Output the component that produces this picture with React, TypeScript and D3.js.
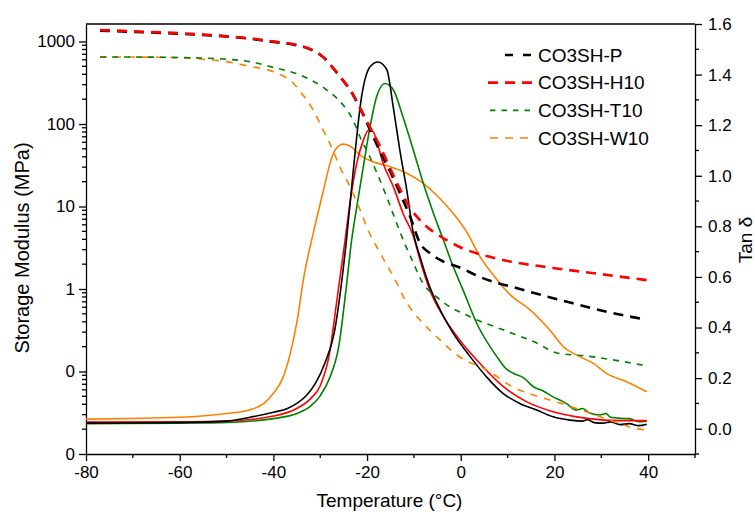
import React, { useEffect, useRef } from 'react';
import * as d3 from 'd3';

// Storage modulus (MPa), [temperature °C, value]
const P_MODULUS: [number, number][] = [
  [-77, 1350], [-70, 1310], [-60, 1240], [-50, 1150], [-45, 1080], [-40, 990], [-35, 900],
  [-32.5, 820], [-30, 690], [-28.5, 580], [-27.3, 480], [-25, 330], [-23.6, 258], [-21.5, 156],
  [-19.6, 91], [-17.2, 46], [-14.7, 24], [-13, 14.6], [-10.8, 7.5], [-8.7, 3.6], [-6.5, 2.7],
  [-4.4, 2.25], [0, 1.8], [4.1, 1.4], [12.6, 1.0], [22.7, 0.7], [31.2, 0.53], [39, 0.43],
];
const H10_MODULUS: [number, number][] = [
  [-77, 1380], [-70, 1330], [-60, 1260], [-50, 1160], [-45, 1090], [-40, 1000], [-35, 910],
  [-32.5, 830], [-30, 690], [-28.5, 580], [-27.3, 480], [-25, 330], [-23.6, 258], [-21.5, 156],
  [-19.4, 92], [-17.2, 53], [-13.6, 19.3], [-10.8, 9.6], [-8.1, 6.3], [-3.8, 4.15], [-0.2, 3.23],
  [9, 2.25], [19.7, 1.8], [29.7, 1.52], [39.7, 1.28],
];
const T10_MODULUS: [number, number][] = [
  [-77, 650], [-70, 648], [-60, 640], [-50, 610], [-45, 570], [-40, 485], [-34.3, 393],
  [-28.6, 258], [-25.1, 170], [-23, 112], [-21.5, 69.5], [-19.8, 44.5], [-17.9, 25.5],
  [-15.8, 13], [-14, 7], [-12, 3.6], [-10, 2.0], [-8.7, 1.36], [-4.4, 0.74], [2, 0.46],
  [9, 0.32], [16.3, 0.22], [20.5, 0.168], [26.9, 0.154], [39.7, 0.117],
];
const W10_MODULUS: [number, number][] = [
  [-77, 650], [-70, 648], [-60, 635], [-55, 610], [-50, 570], [-45, 500], [-40, 430],
  [-35.8, 314], [-33.7, 225], [-31.5, 148], [-29.4, 85], [-27.3, 48.4], [-25.8, 30.1],
  [-23.6, 17.2], [-21.5, 9.1], [-19.8, 5.2], [-17, 2.6], [-14, 1.29], [-11.9, 0.74],
  [-8.7, 0.42], [-5.9, 0.29], [-0.2, 0.15], [5.6, 0.104], [11.1, 0.065], [16.9, 0.049],
  [21.2, 0.0415], [26.9, 0.0323], [31.8, 0.0258], [36.1, 0.0212], [39.7, 0.0195],
];

// Tan delta, [temperature °C, value]
const P_TAN: [number, number][] = [
  [-80, 0.022], [-60, 0.024], [-50, 0.03], [-45, 0.045], [-40, 0.065], [-37, 0.08], [-35, 0.1],
  [-33, 0.13], [-31, 0.18], [-29, 0.26], [-27, 0.38], [-25.5, 0.57], [-24.4, 0.745],
  [-23, 1.01], [-21.2, 1.31], [-19.4, 1.43], [-17.7, 1.45], [-15.8, 1.42], [-14.4, 1.27],
  [-13, 1.1], [-11.5, 0.94], [-10.2, 0.78], [-8.7, 0.68], [-6.6, 0.56], [-4.4, 0.47],
  [-1.7, 0.38], [2, 0.285], [5.5, 0.205], [9, 0.14], [12.6, 0.1], [16.2, 0.074], [19.7, 0.047],
  [23.3, 0.034], [26, 0.03], [27, 0.036], [28.5, 0.024], [30.4, 0.022], [32, 0.027],
  [34, 0.016], [36, 0.02], [38, 0.012], [39.7, 0.018],
];
const H10_TAN: [number, number][] = [
  [-80, 0.026], [-60, 0.027], [-50, 0.03], [-40, 0.05], [-35, 0.08], [-32, 0.12], [-30, 0.17],
  [-28, 0.3], [-26.5, 0.5], [-24.7, 0.745], [-23.6, 0.9], [-22.2, 1.05], [-20.8, 1.14],
  [-19.7, 1.18], [-18.7, 1.174], [-18, 1.14], [-16.6, 1.05], [-14.4, 0.957], [-12.3, 0.85],
  [-10.1, 0.76], [-8.7, 0.667], [-6.6, 0.548], [-3.7, 0.443], [-0.2, 0.35], [4.1, 0.258],
  [9.1, 0.166], [14, 0.107], [19.7, 0.067], [26.9, 0.041], [34, 0.032], [39.7, 0.032],
];
const T10_TAN: [number, number][] = [
  [-80, 0.02], [-60, 0.022], [-50, 0.025], [-40, 0.04], [-35, 0.06], [-32, 0.09], [-30, 0.13],
  [-28, 0.2], [-26, 0.33], [-24.5, 0.55], [-23.3, 0.745], [-22.2, 0.877], [-20.8, 1.036],
  [-19.4, 1.19], [-18, 1.31], [-16.2, 1.365], [-14.4, 1.34], [-12.3, 1.23], [-10.1, 1.1],
  [-8, 0.97], [-5.8, 0.85], [-3.7, 0.746], [-1.6, 0.64], [0.5, 0.548], [3.4, 0.417],
  [7.7, 0.285], [9.5, 0.24], [11.2, 0.219], [13.5, 0.2], [15.5, 0.166], [17.5, 0.15],
  [19.7, 0.126], [21.5, 0.11], [22.5, 0.1], [24.7, 0.074], [26, 0.08], [27.5, 0.062],
  [29.7, 0.054], [31, 0.06], [32, 0.045], [34, 0.041], [36, 0.04], [38, 0.028], [39.7, 0.03],
];
const W10_TAN: [number, number][] = [
  [-80, 0.038], [-60, 0.045], [-50, 0.06], [-45, 0.075], [-42, 0.1], [-40, 0.14], [-38, 0.2],
  [-36.5, 0.29], [-35, 0.42], [-33.5, 0.6], [-31.5, 0.772], [-29.3, 0.943], [-27.9, 1.05],
  [-26.9, 1.1], [-25.1, 1.125], [-23.6, 1.117], [-21.5, 1.082], [-18.7, 1.055], [-15.1, 1.036],
  [-11.5, 1.01], [-8, 0.97], [-5, 0.92], [-2, 0.86], [1.2, 0.78], [4.1, 0.68], [7.7, 0.59],
  [10.5, 0.53], [14.8, 0.47], [19, 0.39], [21.9, 0.324], [25.4, 0.285], [28.3, 0.258],
  [31.1, 0.219], [35.4, 0.186], [39.7, 0.146],
];

const LEGEND_LABELS = ['CO3SH-P', 'CO3SH-H10', 'CO3SH-T10', 'CO3SH-W10'];
const X_TICKS = [-80, -60, -40, -20, 0, 20, 40];
const LEFT_TICKS = [1000, 100, 10, 1, 0.1, 0.01];
const LEFT_TICK_LABELS = ['1000', '100', '10', '1', '0', '0'];
const RIGHT_TICKS = [0, 0.2, 0.4, 0.6, 0.8, 1.0, 1.2, 1.4, 1.6];

const FONT = "Arial, 'Liberation Sans', sans-serif";

const App = () => {
  const svgRef = useRef<SVGSVGElement>(null);

  useEffect(() => {
    const W = 755, H = 516;
    const left = 86, right = 695, top = 24, bottom = 454;
    const svg = d3.select(svgRef.current);
    svg.selectAll('*').remove();
    svg.attr('width', W).attr('height', H);

    svg.append('rect').attr('width', W).attr('height', H).attr('fill', '#ffffff');

    const x = d3.scaleLinear().domain([-80, 50]).range([left, right]);
    const yL = d3.scaleLog().domain([0.01, 1630]).range([bottom, top]);
    const yR = d3.scaleLinear().domain([-0.1, 1.6]).range([bottom, top]);

    // bottom axis
    const gx = svg.append('g')
      .attr('transform', `translate(0,${bottom})`)
      .call(d3.axisBottom(x).tickValues(X_TICKS).tickSize(7).tickSizeOuter(0).tickPadding(5));
    gx.selectAll('text').attr('font-size', 17).attr('font-family', FONT).attr('fill', '#000')
      .text((d: any) => String(d));
    gx.append('g').selectAll('line').data(d3.range(-70, 51, 20)).join('line')
      .attr('x1', d => x(d)).attr('x2', d => x(d)).attr('y1', 0).attr('y2', 4)
      .attr('stroke', '#000');

    // left axis (log)
    const gl = svg.append('g')
      .attr('transform', `translate(${left},0)`)
      .call(d3.axisLeft(yL).tickValues(LEFT_TICKS).tickSize(7).tickSizeOuter(0).tickPadding(4)
        .tickFormat((_d, i) => LEFT_TICK_LABELS[i]));
    gl.selectAll('text').attr('font-size', 17).attr('font-family', FONT).attr('fill', '#000');
    const minorL: number[] = [];
    [0.01, 0.1, 1, 10, 100, 1000].forEach(dec => {
      for (let k = 2; k <= 9; k++) if (dec * k < 1630) minorL.push(dec * k);
    });
    gl.append('g').selectAll('line').data(minorL).join('line')
      .attr('x1', 0).attr('x2', -4).attr('y1', d => yL(d)).attr('y2', d => yL(d))
      .attr('stroke', '#000');

    // right axis
    const gr = svg.append('g')
      .attr('transform', `translate(${right},0)`)
      .call(d3.axisRight(yR).tickValues(RIGHT_TICKS).tickSize(7).tickSizeOuter(0).tickPadding(6)
        .tickFormat(d3.format('.1f')));
    gr.selectAll('text').attr('font-size', 17).attr('font-family', FONT).attr('fill', '#000');
    gr.append('g').selectAll('line').data([-0.1, 0.1, 0.3, 0.5, 0.7, 0.9, 1.1, 1.3, 1.5]).join('line')
      .attr('x1', 0).attr('x2', 4).attr('y1', d => yR(d)).attr('y2', d => yR(d))
      .attr('stroke', '#000');

    [gx, gl, gr].forEach(g => g.selectAll('.domain, line').attr('stroke', '#000').attr('stroke-width', 1.3));

    // top frame
    svg.append('line').attr('x1', left).attr('x2', right).attr('y1', top).attr('y2', top)
      .attr('stroke', '#000').attr('stroke-width', 1.3);

    // titles
    svg.append('text').attr('x', (left + right) / 2 - 1).attr('y', 507).attr('text-anchor', 'middle')
      .attr('font-size', 19).attr('font-family', FONT).text('Temperature (°C)');
    svg.append('text').attr('transform', `translate(29,248) rotate(-90)`).attr('text-anchor', 'middle')
      .attr('font-size', 20).attr('font-family', FONT).text('Storage Modulus (MPa)');
    svg.append('text').attr('transform', `translate(752,240) rotate(-90)`).attr('text-anchor', 'middle')
      .attr('font-size', 19).attr('font-family', FONT).text('Tan δ');

    const clip = svg.append('clipPath').attr('id', 'plot-clip');
    clip.append('rect').attr('x', left).attr('y', top).attr('width', right - left).attr('height', bottom - top);
    const plot = svg.append('g').attr('clip-path', 'url(#plot-clip)');

    const lineL = d3.line<[number, number]>().x(d => x(d[0])).y(d => yL(d[1])).curve(d3.curveMonotoneX);
    const lineR = d3.line<[number, number]>().x(d => x(d[0])).y(d => yR(d[1])).curve(d3.curveMonotoneX);

    const solids: [[number, number][], string][] = [
      [W10_TAN, '#ff8000'], [T10_TAN, '#008000'], [H10_TAN, '#ff0000'], [P_TAN, '#000000'],
    ];
    solids.forEach(([data, color]) => {
      plot.append('path').datum(data).attr('fill', 'none').attr('stroke', color)
        .attr('stroke-width', 1.6).attr('d', lineR);
    });

    const dashed: [[number, number][], string, number, string][] = [
      [W10_MODULUS, '#ff8000', 1.6, '7,7'],
      [T10_MODULUS, '#008000', 1.6, '6,6'],
      [P_MODULUS, '#000000', 2.6, '10,7'],
      [H10_MODULUS, '#ff0000', 2.6, '10,7'],
    ];
    dashed.forEach(([data, color, w, dash]) => {
      plot.append('path').datum(data).attr('fill', 'none').attr('stroke', color)
        .attr('stroke-width', w).attr('stroke-dasharray', dash).attr('d', lineL);
    });

    // legend
    const legendStyles = [
      { color: '#000000', w: 2.6, dash: '8,10', x1: 505 },
      { color: '#ff0000', w: 2.6, dash: '10,7', x1: 488 },
      { color: '#008000', w: 1.6, dash: '5.5,6', x1: 490 },
      { color: '#ff8000', w: 1.6, dash: '8,7', x1: 490 },
    ];
    const rowY = d3.scalePoint<number>().domain([0, 1, 2, 3]).range([55, 138]);
    LEGEND_LABELS.forEach((label, i) => {
      const s = legendStyles[i];
      const yy = rowY(i) as number;
      svg.append('line').attr('x1', s.x1).attr('x2', 533).attr('y1', yy).attr('y2', yy)
        .attr('stroke', s.color).attr('stroke-width', s.w).attr('stroke-dasharray', s.dash);
      svg.append('text').attr('x', 538).attr('y', yy + 6.5).attr('font-size', 19)
        .attr('font-family', FONT).text(label);
    });
  }, []);

  return (
    <div style={{ position: 'absolute', left: 0, top: 0 }}>
      <svg ref={svgRef} style={{ display: 'block' }}></svg>
    </div>
  );
};

export default App;
